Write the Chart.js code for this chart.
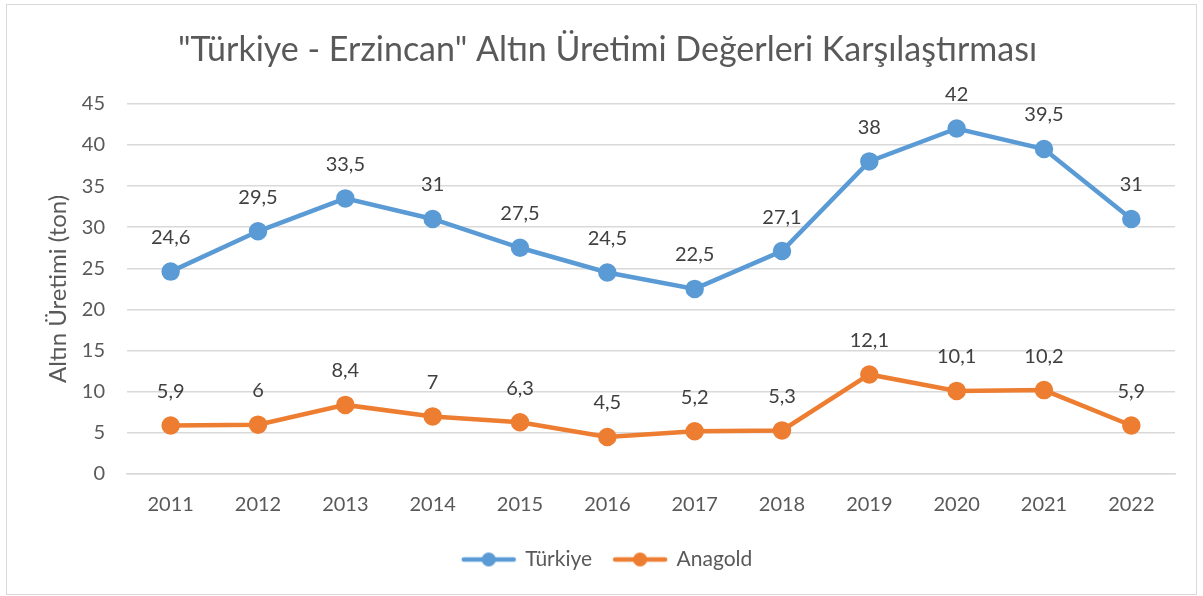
<!DOCTYPE html>
<html>
<head>
<meta charset="utf-8">
<script src="https://cdn.jsdelivr.net/npm/chart.js@4"></script>
<style>
    html, body { margin: 0; padding: 0; background: #fff; }
    #altinChart { display: block; }
</style>
</head>
<body>
<canvas id="altinChart" width="1203" height="596"></canvas>
<script>
var years = ['2011', '2012', '2013', '2014', '2015', '2016', '2017', '2018', '2019', '2020', '2021', '2022'];
var turkiyeValues = [24.6, 29.5, 33.5, 31, 27.5, 24.5, 22.5, 27.1, 38, 42, 39.5, 31];
var anagoldValues = [5.9, 6, 8.4, 7, 6.3, 4.5, 5.2, 5.3, 12.1, 10.1, 10.2, 5.9];
var yTicks = [0, 5, 10, 15, 20, 25, 30, 35, 40, 45];

var fontFamily = 'Lato, "Open Sans", sans-serif';
var blue = '#5b9bd5';
var orange = '#ed7d31';

// legend marker: a short line with a dot in the middle, like the Excel legend
function legendMarker(color) {
    var c = document.createElement('canvas');
    c.width = 56;
    c.height = 16;
    var g = c.getContext('2d');
    g.strokeStyle = color;
    g.lineWidth = 4.5;
    g.lineCap = 'round';
    g.beginPath();
    g.moveTo(3, 8);
    g.lineTo(53, 8);
    g.stroke();
    g.fillStyle = color;
    g.beginPath();
    g.arc(28, 8, 7, 0, Math.PI * 2);
    g.fill();
    return c;
}

var valueLabels = {
    id: 'valueLabels',
    afterDatasetsDraw: function (chart) {
        var ctx = chart.ctx;
        ctx.save();
        ctx.font = '20px ' + fontFamily;
        ctx.fillStyle = '#404040';
        ctx.textAlign = 'center';
        ctx.textBaseline = 'middle';
        chart.data.datasets.forEach(function (ds, i) {
            chart.getDatasetMeta(i).data.forEach(function (pt, j) {
                var txt = String(ds.data[j]).replace('.', ',');
                ctx.fillText(txt, pt.x, pt.y - 34);
            });
        });
        ctx.restore();
    }
};

// title and legend sit centred on the whole frame, not on the plot width
var centreBoxes = {
    id: 'centreBoxes',
    afterLayout: function (chart) {
        var shift = 17;
        [chart.titleBlock, chart.legend].forEach(function (box) {
            if (box) {
                box.left += shift;
                box.right += shift;
            }
        });
    }
};

var outerBorder = {
    id: 'outerBorder',
    beforeDraw: function (chart) {
        var ctx = chart.ctx;
        ctx.save();
        ctx.fillStyle = '#ffffff';
        ctx.fillRect(0, 0, chart.width, chart.height);
        ctx.strokeStyle = '#d9d9d9';
        ctx.lineWidth = 1;
        ctx.strokeRect(6.5, 4.5, 1190, 590);
        ctx.restore();
    }
};

var ctx = document.getElementById('altinChart').getContext('2d');
var altinChart = new Chart(ctx, {
    type: 'line',
    data: {
        labels: years,
        datasets: [{
            label: 'Türkiye',
            data: turkiyeValues,
            borderColor: blue,
            backgroundColor: blue,
            borderWidth: 4.5,
            pointRadius: 7,
            pointHoverRadius: 7,
            pointBackgroundColor: blue,
            pointBorderColor: blue,
            tension: 0
        }, {
            label: 'Anagold',
            data: anagoldValues,
            borderColor: orange,
            backgroundColor: orange,
            borderWidth: 4.5,
            pointRadius: 7,
            pointHoverRadius: 7,
            pointBackgroundColor: orange,
            pointBorderColor: orange,
            tension: 0
        }]
    },
    options: {
        responsive: false,
        animation: false,
        layout: {
            padding: { left: 6, right: 28, top: 4, bottom: 16 }
        },
        scales: {
            x: {
                offset: true,
                grid: { display: false, drawTicks: false },
                border: { display: true, color: '#d9d9d9', width: 1.5 },
                ticks: {
                    color: '#595959',
                    padding: 19,
                    maxRotation: 0,
                    font: { family: fontFamily, size: 20 }
                },
                afterFit: function (scale) { scale.height = 53; }
            },
            y: {
                min: 0,
                max: 45,
                afterBuildTicks: function (scale) {
                    scale.ticks = yTicks.map(function (v) { return { value: v }; });
                },
                grid: { color: '#d9d9d9', lineWidth: 1.5, drawTicks: false },
                border: { display: false },
                ticks: {
                    color: '#595959',
                    padding: 22,
                    font: { family: fontFamily, size: 20 }
                },
                title: {
                    display: true,
                    text: 'Altın Üretimi (ton)',
                    color: '#595959',
                    font: { family: fontFamily, size: 24, weight: 'normal' },
                    padding: { top: 38, bottom: 0 }
                },
                afterFit: function (scale) { scale.width = 121; }
            }
        },
        plugins: {
            title: {
                display: true,
                text: '"Türkiye - Erzincan" Altın Üretimi Değerleri Karşılaştırması',
                color: '#595959',
                font: { family: fontFamily, size: 34, weight: 'normal' },
                padding: { top: 26, bottom: 33 }
            },
            legend: {
                position: 'bottom',
                labels: {
                    usePointStyle: true,
                    pointStyleWidth: 52,
                    padding: 22,
                    color: '#595959',
                    font: { family: fontFamily, size: 21 },
                    generateLabels: function (chart) {
                        return chart.data.datasets.map(function (ds, i) {
                            return {
                                text: ds.label,
                                pointStyle: legendMarker(ds.borderColor),
                                fillStyle: ds.borderColor,
                                strokeStyle: ds.borderColor,
                                lineWidth: 0,
                                fontColor: '#595959',
                                hidden: false,
                                datasetIndex: i
                            };
                        });
                    }
                }
            },
            tooltip: { enabled: false }
        }
    },
    plugins: [outerBorder, centreBoxes, valueLabels]
});
</script>
</body>
</html>
